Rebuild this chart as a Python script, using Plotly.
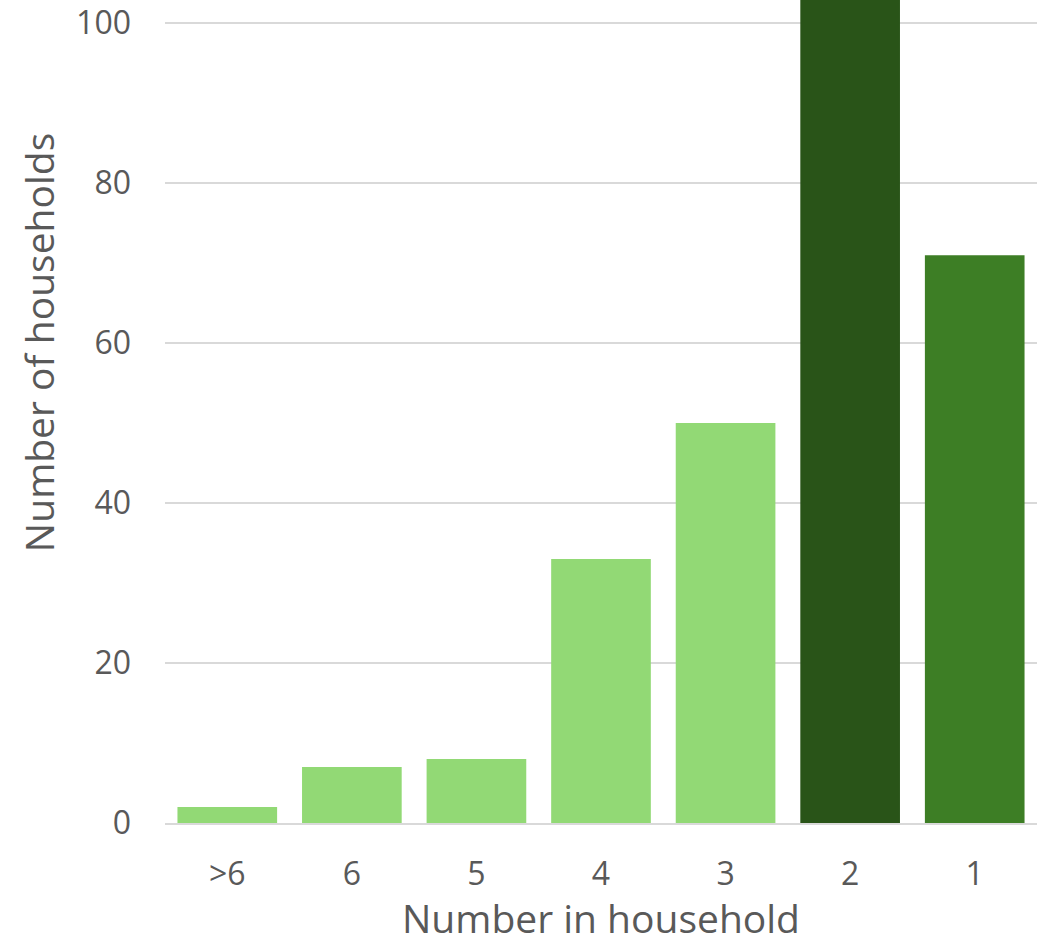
import plotly.graph_objects as go

categories = [">6", "6", "5", "4", "3", "2", "1"]
households = [2, 7, 8, 33, 50, 110, 71]
bar_colors = ["#92D975", "#92D975", "#92D975", "#92D975", "#92D975", "#295418", "#3D7E25"]
y_ticks = [0, 20, 40, 60, 80, 100]

fig = go.Figure(go.Bar(x=categories, y=households, marker=dict(color=bar_colors, line=dict(width=0))))

font_family = "Open Sans, Liberation Sans, Arial, sans-serif"
fig.update_layout(
    width=1046, height=946,
    margin=dict(l=165, r=9, t=0, b=123),
    paper_bgcolor="white", plot_bgcolor="white",
    bargap=0.2,
    showlegend=False,
    font=dict(family=font_family, color="#595959", size=32),
)
fig.update_xaxes(
    type="category", automargin=False,
    tickfont=dict(size=32, color="#595959"),
    showgrid=False, showline=True, linecolor="#D9D9D9", linewidth=2,
    ticks="", ticklabelstandoff=22,
)
fig.update_yaxes(
    range=[0, 102.9], automargin=False,
    tickvals=y_ticks,
    tickfont=dict(size=32, color="#595959"),
    showgrid=True, gridcolor="#D9D9D9", gridwidth=2,
    zeroline=False, showline=False, ticks="", ticklabelstandoff=33,
)
fig.add_annotation(
    text="Number of households", textangle=-90,
    xref="paper", x=-0.1456, yref="y", y=60,
    xanchor="center", yanchor="middle", showarrow=False,
    font=dict(size=39, color="#595959", family=font_family),
)
fig.add_annotation(
    text="Number in household",
    xref="paper", x=0.5, yref="paper", y=-0.1145,
    xanchor="center", yanchor="middle", showarrow=False,
    font=dict(size=39, color="#595959", family=font_family),
)

fig.write_html("out.html", config={"displayModeBar": False},
               post_script="document.body.style.margin='0';")
